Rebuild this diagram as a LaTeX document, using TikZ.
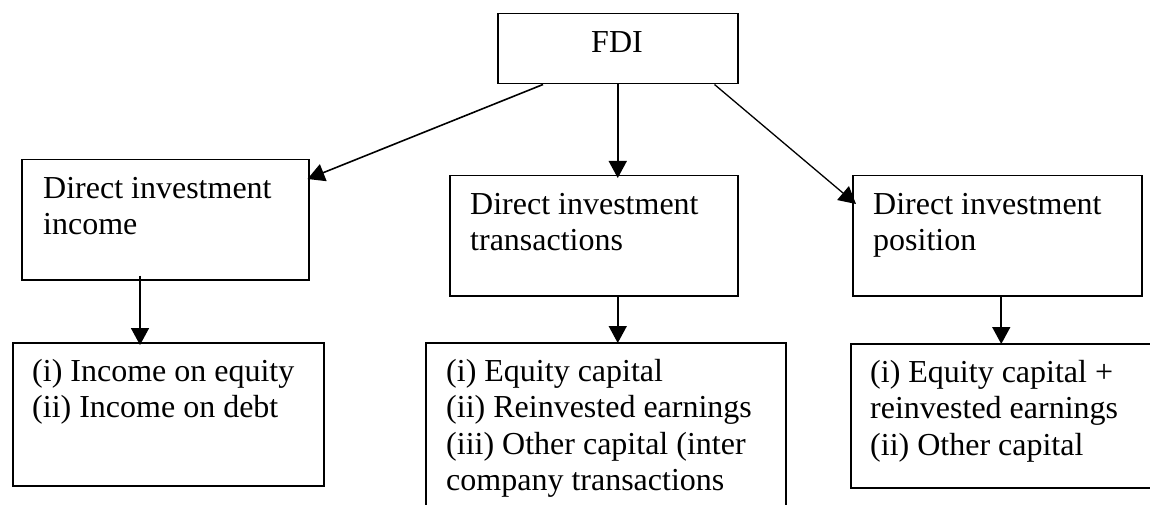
\documentclass[tikz,border=0pt]{standalone}
\usepackage{fontspec}
\setmainfont{Liberation Serif}
\usetikzlibrary{arrows.meta,calc}
\tikzset{
  box/.style={draw=black, line width=1.5pt, rectangle, inner sep=0pt, anchor=north west},
  txt/.style={anchor=base west, inner sep=0pt, font=\fontsize{32pt}{36.5pt}\selectfont},
  arr/.style={line width=1.6pt, -{Triangle[length=17pt,width=18pt]}},
  thin arr/.style={line width=1.3pt, -{Triangle[length=17pt,width=18pt]}}
}
\begin{document}
\begin{tikzpicture}[x=1pt,y=-1pt]
\useasboundingbox[fill=white] (0,0) rectangle (1150,505);
% boxes
\node[box, minimum width=240, minimum height=70] (fdi) at (497,13) {};
\node[box, minimum width=287, minimum height=120] (dii) at (21,159) {};
\node[box, minimum width=288, minimum height=120] (dit) at (449,175) {};
\node[box, minimum width=289, minimum height=120] (dip) at (852,175) {};
\node[box, minimum width=311, minimum height=143] (incl) at (12,342) {};
\node[box, minimum width=360, minimum height=200] (ditl) at (425,342) {};
\node[box, minimum width=320, minimum height=144] (dipl) at (850,343) {};
% texts
\node[txt] (tfdi) at (591,53) {FDI};
\node[txt] (tdii1) at (43,198) {Direct investment};
\node[txt] (tdii2) at (43,234.5) {income};
\node[txt] (tdit1) at (470,214) {Direct investment};
\node[txt] (tdit2) at (470,250.5) {transactions};
\node[txt] (tdip1) at (873,214) {Direct investment};
\node[txt] (tdip2) at (873,250.5) {position};
\node[txt] (tinc1) at (32,381) {(i) Income on equity};
\node[txt] (tinc2) at (32,417.5) {(ii) Income on debt};
\node[txt] (tdt1) at (446,381) {(i) Equity capital};
\node[txt] (tdt2) at (446,417.5) {(ii) Reinvested earnings};
\node[txt] (tdt3) at (446,454) {(iii) Other capital (inter};
\node[txt] (tdt4) at (446,490.5) {company transactions};
\node[txt] (tdp1) at (870,382) {(i) Equity capital +};
\node[txt] (tdp2) at (870,418.5) {reinvested earnings};
\node[txt] (tdp3) at (870,455) {(ii) Other capital};
% connectors
\coordinate (fdiL) at ($(fdi.south west)+(46,0)$);
\coordinate (fdiR) at ($(fdi.south east)+(-24,0)$);
\coordinate (diiB) at ($(dii.south west)+(119,-5)$);
\coordinate (dipB) at ($(dip.south)+(4,0)$);
\draw[arr] (fdiL) -- ($(dii.north east)+(-2,20)$);
\draw[arr] (fdi.south) -- ($(fdi.south |- dit.north)+(0,3)$);
\draw[thin arr] (fdiR) -- ($(dip.north west)+(4,29)$);
\draw[arr] (diiB) -- ($(diiB |- incl.north)+(0,3)$);
\draw[arr] (fdi.south |- dit.south) -- ($(fdi.south |- ditl.north)+(0,1)$);
\draw[arr] (dipB) -- ($(dipB |- dipl.north)+(0,1)$);
\end{tikzpicture}
\end{document}
